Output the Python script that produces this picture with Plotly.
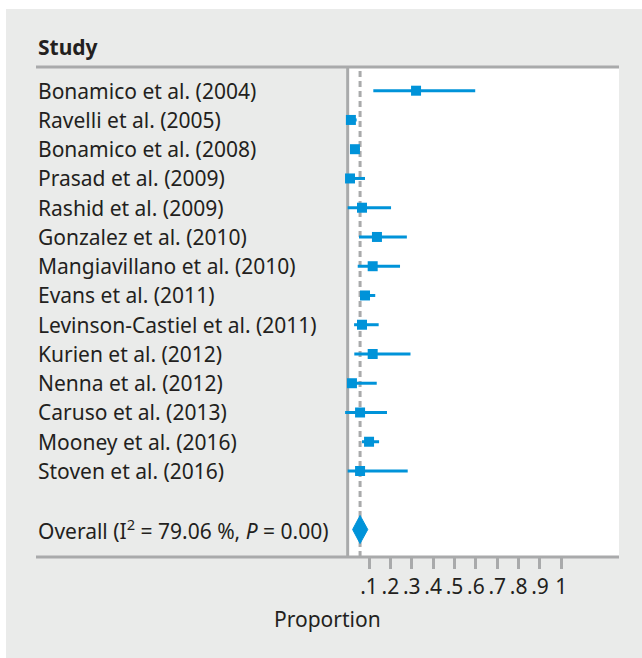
import plotly.graph_objects as go

studies = [
    "Bonamico et al. (2004)",
    "Ravelli et al. (2005)",
    "Bonamico et al. (2008)",
    "Prasad et al. (2009)",
    "Rashid et al. (2009)",
    "Gonzalez et al. (2010)",
    "Mangiavillano et al. (2010)",
    "Evans et al. (2011)",
    "Levinson-Castiel et al. (2011)",
    "Kurien et al. (2012)",
    "Nenna et al. (2012)",
    "Caruso et al. (2013)",
    "Mooney et al. (2016)",
    "Stoven et al. (2016)",
]
estimate = [0.32, 0.015, 0.034, 0.011, 0.067, 0.137, 0.117, 0.081, 0.067, 0.117, 0.020, 0.058, 0.100, 0.058]
lower = [0.120, 0.000, 0.012, 0.000, 0.000, 0.053, 0.047, 0.061, 0.030, 0.031, 0.000, -0.012, 0.067, 0.000]
upper = [0.597, 0.042, 0.056, 0.081, 0.203, 0.277, 0.245, 0.129, 0.145, 0.294, 0.136, 0.184, 0.147, 0.281]

overall_label = "Overall (I<sup>2</sup> = 79.06 %, <i>P</i> = 0.00)"
overall_est = 0.058
overall_lo = 0.023
overall_hi = 0.094

tick_vals = [0.1, 0.2, 0.3, 0.4, 0.5, 0.6, 0.7, 0.8, 0.9, 1.0]
tick_text = [".1", ".2", ".3", ".4", ".5", ".6", ".7", ".8", ".9", "1"]

BLUE = "#0093d9"
GRAY = "#a9aaab"
PANEL = "#eaebea"
TXT = "#231f20"
FONT = "Noto Sans"
FS = 21

rows = list(range(len(studies)))
overall_row = len(studies) + 1

# plot area geometry in px
W, H = 642, 658
ml, mr, mt, mb = 337, 23, 67, 101
pw = W - ml - mr
ph = H - mt - mb
XMIN, XMAX = -0.05, 1.27
YTOP, YBOT = -0.81, 15.94


def px2paperx(px):
    return (px - ml) / pw


def px2papery(py):
    return 1 - (py - mt) / ph


fig = go.Figure()

# CI lines
cx, cy = [], []
for r, lo, hi in zip(rows, lower, upper):
    cx += [lo, hi, None]
    cy += [r, r, None]
fig.add_trace(go.Scatter(x=cx, y=cy, mode="lines",
                         line=dict(color=BLUE, width=3), hoverinfo="skip",
                         showlegend=False, cliponaxis=False))

# point estimates
fig.add_trace(go.Scatter(x=estimate, y=rows, mode="markers",
                         marker=dict(symbol="square", size=10, color=BLUE,
                                     line=dict(width=0)),
                         showlegend=False, cliponaxis=False))

# overall diamond
h = 0.48
fig.add_trace(go.Scatter(
    x=[overall_lo, overall_est, overall_hi, overall_est, overall_lo],
    y=[overall_row, overall_row - h, overall_row, overall_row + h, overall_row],
    mode="lines", fill="toself", fillcolor=BLUE,
    line=dict(color=BLUE, width=1), showlegend=False, hoverinfo="skip"))

shapes = []
# outer white strips
shapes.append(dict(type="rect", xref="paper", yref="paper",
                   x0=px2paperx(-5), x1=px2paperx(W + 5),
                   y0=px2papery(-5), y1=px2papery(9),
                   fillcolor="white", line=dict(width=0), layer="below"))
shapes.append(dict(type="rect", xref="paper", yref="paper",
                   x0=px2paperx(-5), x1=px2paperx(6),
                   y0=px2papery(-5), y1=px2papery(H + 5),
                   fillcolor="white", line=dict(width=0), layer="below"))
# white plot region from x=0
shapes.append(dict(type="rect", xref="x", yref="paper", x0=0, x1=XMAX,
                   y0=0, y1=1, fillcolor="white", line=dict(width=0),
                   layer="below"))
# top and bottom horizontal rules
for yp in (1, 0):
    shapes.append(dict(type="line", xref="paper", yref="paper",
                       x0=px2paperx(36), x1=1, y0=yp, y1=yp,
                       line=dict(color=GRAY, width=3), layer="above"))
# vertical line at 0
shapes.append(dict(type="line", xref="x", yref="paper", x0=0, x1=0,
                   y0=0, y1=1, line=dict(color=GRAY, width=3), layer="below"))
# dashed overall line
shapes.append(dict(type="line", xref="x", yref="paper", x0=overall_est,
                   x1=overall_est, y0=0, y1=1,
                   line=dict(color=GRAY, width=3, dash="6px,4px"),
                   layer="below"))

annotations = []
lab_x = px2paperx(36)
for r, s in zip(rows, studies):
    annotations.append(dict(x=lab_x, y=r, xref="paper", yref="y", text=s,
                            showarrow=False, xanchor="left", yanchor="middle",
                            font=dict(family=FONT, size=FS, color=TXT)))
annotations.append(dict(x=lab_x, y=overall_row, xref="paper", yref="y",
                        text=overall_label, showarrow=False, xanchor="left",
                        yanchor="middle",
                        font=dict(family=FONT, size=FS, color=TXT)))
annotations.append(dict(x=lab_x, y=px2papery(47), xref="paper", yref="paper",
                        text="<b>Study</b>", showarrow=False, xanchor="left",
                        yanchor="middle",
                        font=dict(family=FONT, size=FS, color=TXT)))
annotations.append(dict(x=px2paperx(327.5), y=px2papery(619), xref="paper",
                        yref="paper", text="Proportion", showarrow=False,
                        xanchor="center", yanchor="middle",
                        font=dict(family=FONT, size=FS, color=TXT)))

fig.update_layout(
    width=W, height=H,
    margin=dict(l=ml, r=mr, t=mt, b=mb, pad=0),
    paper_bgcolor=PANEL, plot_bgcolor=PANEL,
    shapes=shapes, annotations=annotations, showlegend=False,
    xaxis=dict(range=[XMIN, XMAX], tickvals=tick_vals, ticktext=tick_text,
               ticks="outside", ticklen=11, tickwidth=2.5, tickcolor=GRAY,
               showgrid=False, zeroline=False, showline=False,
               tickfont=dict(family=FONT, size=FS, color=TXT)),
    yaxis=dict(range=[YBOT, YTOP], showticklabels=False, showgrid=False,
               zeroline=False, showline=False, ticks=""),
)

fig.write_html("out.html",
               config={"displayModeBar": False},
               post_script="document.body.style.margin='0';"
                           "document.body.style.overflow='hidden';")
